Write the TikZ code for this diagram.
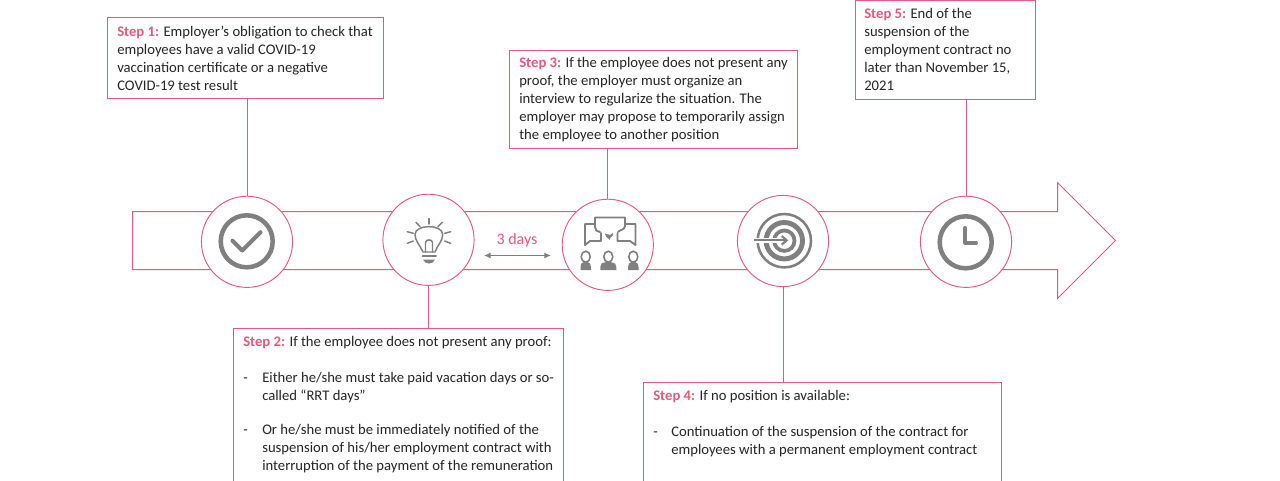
\documentclass[tikz,border=0pt]{standalone}
\usepackage{fontspec}
\setmainfont{Carlito}
\usetikzlibrary{arrows.meta,calc}
\definecolor{pk}{HTML}{E8587A}
\definecolor{gy}{HTML}{808080}
\definecolor{tx}{HTML}{262626}
\newcommand{\stp}[1]{{\color{pk}\bfseries #1}}
\tikzset{x=0.75pt,y=-0.75pt,
 line/.style={draw=pk,line width=0.75pt},
 disc/.style={circle,draw=pk,line width=0.7pt,fill=white,minimum size=68.4pt,inner sep=0pt,outer sep=0pt},
 box/.style={draw=pk,line width=0.75pt,fill=white,anchor=north west,inner sep=0pt,outer sep=0pt},
 ico/.style={draw=gy,line width=3.4pt,line cap=round,line join=round},
 icot/.style={draw=gy,line width=1.1pt,line cap=round,line join=round},
 txt/.style={anchor=north west,inner sep=0pt,font=\fontsize{11}{13.5}\selectfont,text=tx,align=left},
 lbl/.style={font=\fontsize{12}{14}\selectfont,text=pk}}
\begin{document}
\begin{tikzpicture}
\useasboundingbox (0,0) rectangle (1280,480);
\clip (0,0) rectangle (1280,480);
\fill[white] (0,0) rectangle (1280,480);
% arrow
\draw[line] (132.5,211.5) -- (1057.5,211.5) -- (1057.5,182.5) -- (1115.5,240.5) -- (1057.5,298.5) -- (1057.5,269.5) -- (132.5,269.5) -- cycle;
% discs
\node[disc] (c1) at (247,241.8) {};
\node[disc] (c2) at (428.5,239.8) {};
\node[disc] (c3) at (607.8,244.8) {};
\node[disc] (c4) at (783,241) {};
\node[disc] (c5) at (966,241.8) {};
% boxes
\node[box,minimum width=207pt,minimum height=60.75pt] (b1) at (107.5,17.5) {};
\node[box,minimum width=216pt,minimum height=73.5pt] (b3) at (509.5,50.5) {};
\node[box,minimum width=135pt,minimum height=74.25pt] (b5) at (855.5,0.5) {};
\node[box,minimum width=247.5pt,minimum height=150pt] (b2) at (233.5,328.5) {};
\node[box,minimum width=268.5pt,minimum height=150pt] (b4) at (643.5,382.5) {};
% connectors
\draw[line] (c1.north) -- (c1.north |- b1.south);
\draw[line] (c2.south) -- (c2.south |- b2.north);
\draw[line] (c3.north) -- (c3.north |- b3.south);
\draw[line] (c4.south) -- (c4.south |- b4.north);
\draw[line] (c5.north) -- (c5.north |- b5.south);
% texts
\node[txt] (t1) at (117,25.5) {\stp{Step 1:} Employer's obligation to check that\\employees have a valid COVID-19\\vaccination certificate or a negative\\COVID-19 test result};
\node[txt] (t3) at (519,57.5) {\stp{Step 3:} If the employee does not present any\\proof, the employer must organize an\\interview to regularize the situation. The\\employer may propose to temporarily assign\\the employee to another position};
\node[txt] (t5) at (864,8.5) {\stp{Step 5:} End of the\\suspension of the\\employment contract no\\later than November 15,\\2021};
\node[txt] (t2) at (243,336.5) {\stp{Step 2:} If the employee does not present any proof:};
\node[txt] (t2a) at (243,372) {\vphantom{h}-};
\node[txt] (t2b) at (262,372) {Either he/she must take paid vacation days or so-\\called “RRT days”};
\node[txt] (t2c) at (243,424.5) {\vphantom{h}-};
\node[txt] (t2d) at (262,424.5) {Or he/she must be immediately notified of the\\suspension of his/her employment contract with\\interruption of the payment of the remuneration};
\node[txt] (t4) at (653,390.5) {\stp{Step 4:} If no position is available:};
\node[txt] (t4a) at (653,426) {\vphantom{h}-};
\node[txt] (t4b) at (671,426) {Continuation of the suspension of the contract for\\employees with a permanent employment contract};
% 3 days
\node[lbl] (d3) at (517,240) {3 days};
\coordinate (da) at (484,255.5);
\coordinate (db) at (551,255.5);
\draw[draw=gy,line width=0.75pt,{Latex[length=5pt,width=4.5pt]}-{Latex[length=5pt,width=4.5pt]}] (da) -- (db);
% icon 1
\draw[ico] (246.7,241.3) circle (26);
\draw[ico,line width=3pt] (232.5,240.7) -- (242.3,250.5) -- (260.5,232.2);
% icon 5
\draw[ico] (965.7,242.3) circle (26);
\draw[ico,line width=3pt] (965.3,228) -- (965.3,242.7) -- (976,242.7);
% icon 2 bulb
\draw[icot] (423,252) .. controls (420,245) and (415,241) .. (415,234.5) .. controls (415,224) and (442.7,224) .. (442.7,234.5) .. controls (442.7,241) and (437.5,245) .. (435,252) -- cycle;
\draw[icot] (425.5,252) -- (425.5,242.5) .. controls (425.5,239) and (432.5,239) .. (432.5,242.5) -- (432.5,252);
\draw[draw=gy,line width=1.5pt,line cap=round] (422.5,256) -- (436,256);
\fill[gy] (423,259.5) -- (435,259.5) .. controls (434,262) and (432,263.5) .. (429,263.5) .. controls (426,263.5) and (424,262) .. (423,259.5) -- cycle;
\foreach \a/\b/\c/\d in {429/218.5/429/224, 416/222.3/420/226.7, 442.3/222.3/438/226.7, 407.3/231.7/413.3/233.3, 450.7/231.7/444.7/233.3, 407.3/243.3/413.3/241, 450.7/243.3/444.7/241}
  \draw[icot] (\a,\b) -- (\c,\d);
% icon 3
\draw[icot,line width=1.4pt] (594,224) -- (585,224) -- (585,245) -- (590,241) -- (601,241) -- (601,233);
\draw[icot,line width=1.4pt] (600,232) .. controls (597,232) and (595,230) .. (595,227) -- (595,217.5) -- (625,217.5) -- (625,226) .. controls (625,230) and (619,230) .. (618,232);
\draw[icot,line width=1.4pt] (625,224) -- (635.5,224) -- (635.5,245) -- (630,241) -- (617.5,241) -- (617.5,233);
\fill[gy] (605,233.5) -- (610,235) -- (613,233) -- (613,235) -- (610,238) -- (610,240) -- (606,236.5) -- cycle;
\foreach \x/\w in {585.7/4.2,608.3/7,633.3/4.2}{
  \draw[draw=gy,line width=1.2pt] (\x,256.7) ellipse (4.5 and 5.5);
  \fill[gy] (\x-\w-1,270) -- (\x-\w-1,267) .. controls (\x-\w-1,264) and (\x-\w,263) .. (\x-2,262) -- (\x+2,262) .. controls (\x+\w,263) and (\x+\w+1,264) .. (\x+\w+1,267) -- (\x+\w+1,270) -- cycle;
}
% icon 4 target
\draw[draw=gy,line width=1.9pt] (784.3,240.7) circle (26.7);
\draw[draw=gy,line width=3.7pt] (784.3,240.7) circle (18.2);
\draw[draw=gy,line width=2.8pt] (784.3,240.7) circle (10.2);
\fill[gy] (784.3,240.7) circle (2.5);
\draw[draw=white,line width=4pt] (754,240.3) -- (784,240.3);
\draw[draw=gy,line width=1.6pt] (754,240.3) -- (785,240.3);
\draw[draw=gy,line width=1.6pt,line join=miter] (781.7,236) -- (786.7,240.3) -- (781.7,244.6);
\end{tikzpicture}
\end{document}
